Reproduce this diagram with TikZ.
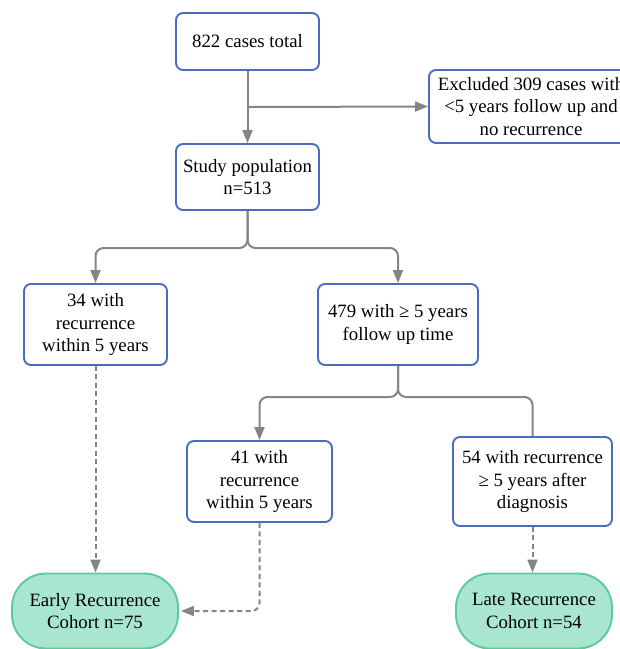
\documentclass[tikz,border=0pt]{standalone}
\usepackage{fontspec}
\setmainfont{Liberation Serif}
\usetikzlibrary{arrows.meta}
\definecolor{boxblue}{HTML}{4A6BC0}
\definecolor{conngray}{HTML}{858585}
\definecolor{cohortfill}{HTML}{A8E6CF}
\definecolor{cohortdraw}{HTML}{5CC9A0}
\begin{document}
\begin{tikzpicture}[x=1pt,y=-1pt,
  every node/.style={font=\fontsize{18.8}{22.5}\selectfont, align=center, inner sep=0pt},
  stepbox/.style={draw=boxblue, line width=1.9pt, rounded corners=7pt, fill=white},
  cohort/.style={draw=cohortdraw, line width=1.9pt, rounded corners=34pt, fill=cohortfill},
  conn/.style={draw=conngray, line width=2pt, -{Triangle[length=13pt,width=10pt]}, rounded corners=8pt},
  plainconn/.style={draw=conngray, line width=2pt, rounded corners=8pt},
  dconn/.style={conn, dash pattern=on 5pt off 3.5pt}]
\useasboundingbox (0,0) rectangle (620,649);
\node[stepbox, minimum width=143pt, minimum height=57pt] (total) at (247.5,41.5) {822 cases total};
\node[stepbox, minimum width=204pt, minimum height=73pt] (excl) at (531,106.5) {Excluded 309 cases with\\<5 years follow up and\\no recurrence};
\node[stepbox, minimum width=143pt, minimum height=66pt] (study) at (247.5,177) {Study population\\n=513};
\node[stepbox, minimum width=143pt, minimum height=81pt] (b34) at (95.5,324.5) {34 with\\recurrence\\within 5 years};
\node[stepbox, minimum width=160pt, minimum height=81pt] (b479) at (398,324.5) {479 with ≥ 5 years\\follow up time};
\node[stepbox, minimum width=145pt, minimum height=81pt] (b41) at (259.5,481.5) {41 with\\recurrence\\within 5 years};
\node[stepbox, minimum width=159pt, minimum height=89pt] (b54) at (532.5,481.5) {54 with recurrence\\≥ 5 years after\\diagnosis};
\node[cohort, minimum width=166pt, minimum height=75pt] (early) at (95,611) {Early Recurrence\\Cohort n=75};
\node[cohort, minimum width=156pt, minimum height=75pt] (late) at (534,611) {Late Recurrence\\Cohort n=54};
\coordinate (j1) at (247.5,107);
\coordinate (s1) at (247.5,248);
\coordinate (s2) at (398,397);
\draw[conn] (total) -- (study);
\draw[conn] (j1) -- (excl.west);
\draw[conn] (study.south) -- (s1) -| (b34.north);
\draw[conn] (study.south) -- (s1) -| (b479.north);
\draw[conn] (b479.south) -- (s2) -| (b41.north);
\draw[plainconn] (b479.south) -- (s2) -| (b54.north);
\draw[dconn] (b34.south) -- (b34.south |- early.north);
\draw[dconn] (b41.south) |- ([xshift=2pt]early.east);
\draw[dconn] (b54.south) -- (b54.south |- late.north);
\end{tikzpicture}
\end{document}
